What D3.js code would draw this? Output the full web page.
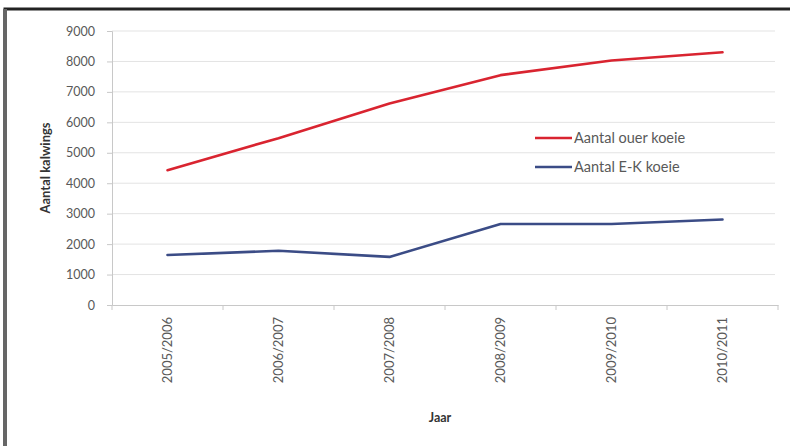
<!DOCTYPE html>
<html><head><meta charset="utf-8">
<script src="https://cdn.jsdelivr.net/npm/d3@7"></script>
<style>body{margin:0;background:#fff}svg{display:block}text{font-family:Lato,"Open Sans",sans-serif}</style>
</head><body><svg id="c" width="790" height="446"></svg>
<script>
const categories = ["2005/2006","2006/2007","2007/2008","2008/2009","2009/2010","2010/2011"];
const ouerKoeie = [4430, 5480, 6620, 7550, 8030, 8300];
const ekKoeie = [1640, 1780, 1580, 2660, 2660, 2810];
const yTicks = [0,1000,2000,3000,4000,5000,6000,7000,8000,9000];
const seriesNames = ["Aantal ouer koeie","Aantal E-K koeie"];
const colors = ["#d92430","#3b4c86"];

const svg = d3.select("#c");
// frame
svg.append("rect").attr("x",5).attr("y",9).attr("width",800).attr("height",450)
  .attr("fill","#fff").attr("stroke","#222").attr("stroke-width",3);
svg.append("line").attr("x1",5).attr("x2",5).attr("y1",9).attr("y2",446).attr("stroke","#666").attr("stroke-width",4);

const L=112, R=778, T=31, B=305;
const x = d3.scaleBand().domain(categories).range([L,R]);
const y = d3.scaleLinear().domain([0,9000]).range([B,T]);

// gridlines
svg.append("g").selectAll("line").data(yTicks.filter(d=>d>0)).join("line")
  .attr("x1",L).attr("x2",775).attr("y1",d=>y(d)).attr("y2",d=>y(d))
  .attr("stroke","#e3e3e3").attr("stroke-width",1);

// y axis
const ya = svg.append("g").attr("transform",`translate(${L},0)`)
  .call(d3.axisLeft(y).tickValues(yTicks).tickSize(5).tickPadding(12).tickFormat(d3.format("d")));
ya.select(".domain").attr("stroke","#c8c8c8");
ya.selectAll(".tick line").attr("stroke","#c8c8c8");
ya.selectAll("text").attr("fill","#595959").style("font-size","12.5px").style("font-family","Lato,sans-serif");

// x axis
const xa = svg.append("g").attr("transform",`translate(0,${B})`)
  .call(d3.axisBottom(x).tickSize(0).tickSizeOuter(0));
xa.select(".domain").attr("stroke","#c8c8c8");
xa.selectAll("text").attr("fill","#595959").style("font-size","13px").style("font-family","Lato,sans-serif")
  .attr("transform","rotate(-90)").attr("text-anchor","end").attr("x",-12).attr("y",0).attr("dy","0.35em");
// x tick marks at band boundaries
const bounds = categories.map(c=>x(c)).concat([R]);
svg.append("g").selectAll("line").data(bounds).join("line")
  .attr("x1",d=>d).attr("x2",d=>d).attr("y1",B).attr("y2",B+5).attr("stroke","#c8c8c8");

// lines
const line = d3.line().x((d,i)=>x(categories[i])+x.bandwidth()/2).y(d=>y(d));
[ouerKoeie, ekKoeie].forEach((s,i)=>{
  svg.append("path").datum(s).attr("d",line).attr("fill","none")
    .attr("stroke",colors[i]).attr("stroke-width",2.6).attr("stroke-linejoin","round").attr("stroke-linecap","round");
});

// legend
const lg = svg.append("g");
seriesNames.forEach((n,i)=>{
  const ly = 138 + i*29;
  lg.append("line").attr("x1",535).attr("x2",572).attr("y1",ly).attr("y2",ly).attr("stroke",colors[i]).attr("stroke-width",2.6);
  lg.append("text").attr("x",574).attr("y",ly).attr("dy","0.35em").attr("fill","#595959")
    .style("font-size","14.5px").text(n);
});

// axis titles
svg.append("text").attr("x",440).attr("y",418).attr("dy","0.35em").attr("text-anchor","middle")
  .attr("fill","#333").style("font-size","12.5px").style("font-weight","bold").text("Jaar");
svg.append("text").attr("transform","translate(45,168) rotate(-90)").attr("dy","0.35em").attr("text-anchor","middle")
  .attr("fill","#333").style("font-size","13px").style("font-weight","bold").text("Aantal kalwings");
</script></body></html>
